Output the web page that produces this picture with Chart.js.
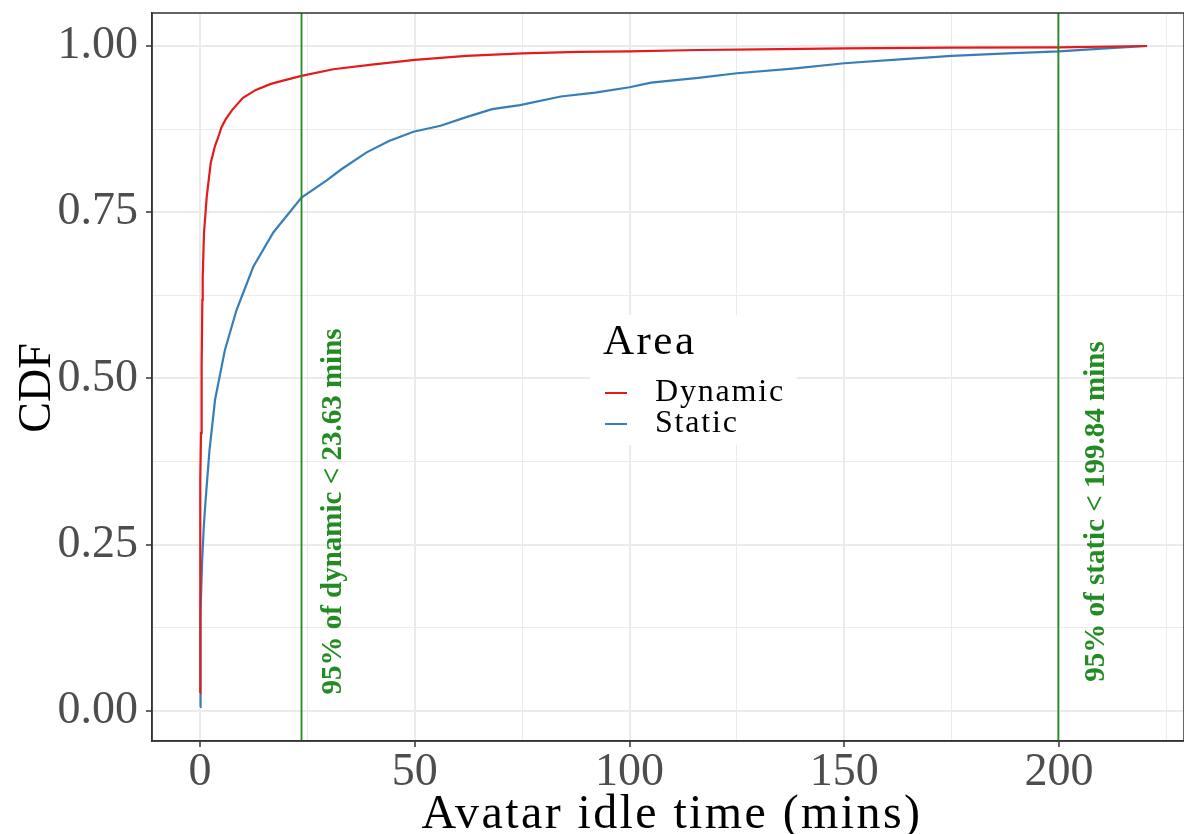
<!DOCTYPE html>
<html>
<head>
<meta charset="utf-8">
<script src="https://cdn.jsdelivr.net/npm/chart.js@4.4.1/dist/chart.umd.min.js"></script>
<style>
html,body{margin:0;padding:0;background:#fff;}
#wrap{width:1184px;height:834px;position:relative;}
</style>
</head>
<body>
<div id="wrap"><canvas id="c" width="1184" height="834"></canvas></div>
<script>
// ---- data ----
const dynamicX = [0, 0.02, 0.05, 0.12, 0.23, 0.38, 0.54, 0.63, 0.93, 1.56, 2.49, 3.5, 4.2, 5, 6, 7.5, 10, 13, 16.5, 20, 23.63, 31, 40, 50, 62, 75, 88, 100, 116, 130, 150, 175, 200, 220.5];
const dynamicY = [0.027, 0.15, 0.268, 0.35, 0.418, 0.52, 0.618, 0.653, 0.719, 0.773, 0.824, 0.85, 0.862, 0.878, 0.89, 0.904, 0.922, 0.934, 0.943, 0.949, 0.955, 0.965, 0.972, 0.979, 0.985, 0.989, 0.991, 0.992, 0.994, 0.995, 0.9965, 0.9975, 0.998, 1.0];
const staticX = [0, 0.05, 0.2, 0.5, 0.9, 1.3, 2.2, 3.5, 5.8, 8.5, 12.4, 17.1, 23.63, 29.5, 33, 38.8, 44, 49.7, 56, 62, 68, 74.5, 84, 92, 100, 105, 116, 125, 138, 150, 163, 175, 188, 200, 210, 220.5];
const staticY = [0.006, 0.06, 0.15, 0.227, 0.28, 0.317, 0.392, 0.468, 0.543, 0.603, 0.668, 0.72, 0.772, 0.798, 0.815, 0.84, 0.857, 0.871, 0.88, 0.893, 0.905, 0.911, 0.924, 0.93, 0.938, 0.945, 0.952, 0.959, 0.966, 0.974, 0.98, 0.985, 0.989, 0.992, 0.996, 1.0];
const seriesNames = ['Dynamic', 'Static'];
const xTickValues = [0, 50, 100, 150, 200];
const xTickLabels = ['0', '50', '100', '150', '200'];
const xMinorValues = [25, 75, 125, 175, 225];
const yTickValues = [0, 0.25, 0.5, 0.75, 1.0];
const yTickLabels = ['0.00', '0.25', '0.50', '0.75', '1.00'];
const yMinorValues = [0.125, 0.375, 0.625, 0.875];
const vlineValues = [23.63, 199.84];
const vlineTexts = ['95% of dynamic < 23.63 mins', '95% of static < 199.84 mins'];
const vlineTextX = [31, 208.8];
const vlineTextY = [0.30, 0.30];
const xTitle = 'Avatar idle time (mins)';
const yTitle = 'CDF';
const legendTitle = 'Area';

const SERIF = '"Liberation Serif", "Times New Roman", serif';
const RED = '#E41A1C', BLUE = '#377EB8', GREEN = '#228B22';

function pts(xs, ys){ return xs.map((x,i)=>({x:x, y:ys[i]})); }

const isMajorX = v => xTickValues.includes(v);
const isMajorY = v => yTickValues.some(t => Math.abs(t - v) < 1e-9);

const overlay = {
  id: 'overlay',
  afterDatasetsDraw(chart){
    const {ctx, chartArea:a, scales:{x, y}} = chart;
    ctx.save();
    ctx.beginPath(); ctx.rect(a.left, a.top, a.right-a.left, a.bottom-a.top); ctx.clip();
    // vertical reference lines
    ctx.strokeStyle = GREEN; ctx.lineWidth = 1.8;
    vlineValues.forEach(v => {
      const px = x.getPixelForValue(v);
      ctx.beginPath(); ctx.moveTo(px, a.top); ctx.lineTo(px, a.bottom); ctx.stroke();
    });
    // rotated labels
    ctx.fillStyle = GREEN;
    ctx.font = 'bold 29px ' + SERIF;
    ctx.textAlign = 'center'; ctx.textBaseline = 'middle';
    vlineTexts.forEach((t, i) => {
      ctx.save();
      ctx.translate(x.getPixelForValue(vlineTextX[i]), y.getPixelForValue(vlineTextY[i]));
      ctx.rotate(-Math.PI/2);
      ctx.fillText(t, 0, 0);
      ctx.restore();
    });
    ctx.restore();

    // legend
    ctx.save();
    ctx.fillStyle = '#fff';
    ctx.fillRect(590, 315, 207, 130);
    ctx.fillStyle = '#000';
    ctx.font = '43px ' + SERIF;
    ctx.letterSpacing = '2.5px';
    ctx.textAlign = 'left'; ctx.textBaseline = 'alphabetic';
    ctx.fillText(legendTitle, 603, 354);
    const ds = chart.data.datasets;
    const rows = [393, 424];
    ctx.font = '32px ' + SERIF;
    ctx.letterSpacing = '1.8px';
    ctx.textBaseline = 'middle';
    ds.forEach((d, i) => {
      ctx.strokeStyle = d.borderColor; ctx.lineWidth = 2;
      ctx.beginPath(); ctx.moveTo(605, rows[i]); ctx.lineTo(627, rows[i]); ctx.stroke();
      ctx.fillStyle = '#000';
      ctx.fillText(d.label, 655, rows[i]);
    });
    ctx.restore();

    // panel border
    ctx.save();
    ctx.strokeStyle = '#333'; ctx.lineWidth = 1.5;
    ctx.strokeRect(a.left, a.top, a.right - a.left, a.bottom - a.top);
    ctx.restore();

    // axis titles
    ctx.save();
    ctx.fillStyle = '#000';
    ctx.font = '48px ' + SERIF;
    ctx.letterSpacing = '2.4px';
    ctx.textAlign = 'center'; ctx.textBaseline = 'alphabetic';
    ctx.fillText(xTitle, 672, 828);
    ctx.letterSpacing = '0px';
    ctx.font = '46px ' + SERIF;
    ctx.translate(50, 388);
    ctx.rotate(-Math.PI/2);
    ctx.fillText(yTitle, 0, 0);
    ctx.restore();
  }
};

new Chart(document.getElementById('c'), {
  type: 'scatter',
  data: {
    datasets: [
      { label: seriesNames[0], data: pts(dynamicX, dynamicY), borderColor: RED, backgroundColor: RED, showLine: true, pointRadius: 0, borderWidth: 2.2, tension: 0 },
      { label: seriesNames[1], data: pts(staticX, staticY), borderColor: BLUE, backgroundColor: BLUE, showLine: true, pointRadius: 0, borderWidth: 2.2, tension: 0 }
    ]
  },
  options: {
    responsive: false,
    animation: false,
    devicePixelRatio: 1,
    layout: { padding: { top: 13, right: 0, left: 0, bottom: 0 } },
    plugins: { legend: { display: false }, tooltip: { enabled: false } },
    scales: {
      x: {
        type: 'linear', min: -11.18, max: 229.1,
        afterBuildTicks: s => { s.ticks = xTickValues.concat(xMinorValues).sort((a,b)=>a-b).map(v => ({value: v})); },
        afterFit: s => { s.height = 93; s.paddingLeft = 0; s.paddingRight = 0; },
        ticks: {
          autoSkip: false, maxRotation: 0, padding: -2,
          color: '#4D4D4D', font: { family: SERIF, size: 46 },
          callback: v => { const i = xTickValues.indexOf(v); return i >= 0 ? xTickLabels[i] : ''; }
        },
        grid: {
          color: c => '#EBEBEB',
          lineWidth: c => (c.tick && isMajorX(c.tick.value)) ? 2 : 1,
          tickColor: c => (c.tick && isMajorX(c.tick.value)) ? '#333' : 'rgba(0,0,0,0)',
          tickLength: 6, tickWidth: 1.5
        },
        border: { display: true, color: '#333', width: 1.5 },
        title: { display: false }
      },
      y: {
        type: 'linear', min: -0.0451, max: 1.0496,
        afterBuildTicks: s => { s.ticks = yTickValues.concat(yMinorValues).sort((a,b)=>a-b).map(v => ({value: v})); },
        afterFit: s => { s.width = 152; s.paddingTop = 0; s.paddingBottom = 0; },
        ticks: {
          autoSkip: false, padding: 8,
          color: '#4D4D4D', font: { family: SERIF, size: 46 },
          callback: v => { const i = yTickValues.findIndex(t => Math.abs(t - v) < 1e-9); return i >= 0 ? yTickLabels[i] : ''; }
        },
        grid: {
          color: c => '#EBEBEB',
          lineWidth: c => (c.tick && isMajorY(c.tick.value)) ? 2 : 1,
          tickColor: c => (c.tick && isMajorY(c.tick.value)) ? '#333' : 'rgba(0,0,0,0)',
          tickLength: 6, tickWidth: 1.5
        },
        border: { display: true, color: '#333', width: 1.5 },
        title: { display: false }
      }
    }
  },
  plugins: [overlay]
});
</script>
</body>
</html>
